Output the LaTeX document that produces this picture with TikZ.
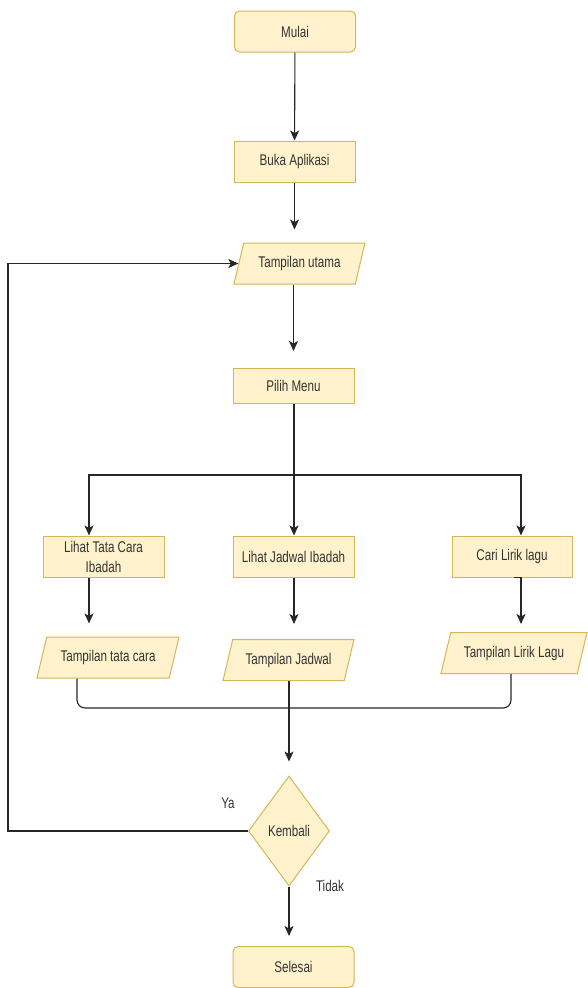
\documentclass[tikz,border=0pt]{standalone}
\usepackage{fontspec}
\setmainfont{Liberation Sans}[FakeStretch=0.75]
\usepackage{tikz}
\usetikzlibrary{arrows.meta,shapes.geometric}
\tikzset{>={Stealth[width=9pt,length=10pt,inset=2.5pt]}}
\definecolor{isi}{HTML}{FFF2CC}
\definecolor{garis}{HTML}{D6B656}
\definecolor{teks}{HTML}{333333}
\tikzset{
  kotak/.style={draw=garis,fill=isi,line width=1pt,minimum width=121pt,minimum height=41pt,inner sep=0pt,text=teks,align=center},
  awal/.style={kotak,rounded corners=5pt},
  io/.style={draw=garis,fill=isi,line width=1pt,trapezium,trapezium left angle=56,trapezium right angle=124,
    trapezium stretches body,minimum height=41pt,inner sep=0pt,text=teks},
  pilihan/.style={draw=garis,fill=isi,line width=1pt,diamond,aspect=0.74,minimum width=81pt,minimum height=110pt,inner sep=0pt,text=teks},
  panah/.style={->,line width=1.1pt,draw=black!85},
  garisan/.style={line width=1.1pt,draw=black!85}
}

\begin{document}
\begin{tikzpicture}[x=1pt,y=-1pt,font=\fontsize{15.5}{20}\selectfont]

  \useasboundingbox (0,0) rectangle (587,988);

  \newcommand\Ki{-14.5pt};
  \newcommand\Ka{9pt};

  %% alur utama
  \node[awal] (mulai) at (295,31.5) {Mulai};
  \node[kotak] (buka) at (294.5,161.5) {Buka Aplikasi};
  \node[io,minimum width=131pt] (utama) at (299.5,263.5) {Tampilan utama};
  \node[kotak,minimum height=35pt] (pilih) at (293.5,386) {Pilih Menu};

  %% tiga menu
  \node[kotak] (tatacara) at (103.5,556.5) {Lihat Tata Cara\\Ibadah};
  \node[kotak] (jadwal) at (293.5,556.5) {Lihat Jadwal Ibadah};
  \node[kotak,minimum width=120pt] (lirik) at (512,556.5) {Cari Lirik lagu};

  \node[io,minimum width=142pt] (tamptata) at (108,657.5) {Tampilan tata cara};
  \node[io,minimum width=131pt] (tampjadwal) at (288.5,660) {Tampilan Jadwal};
  \node[io,minimum width=146pt] (tamplirik) at (514,653) {Tampilan Lirik Lagu};

  %% keputusan
  \node[pilihan] (kembali) at (289,831) {Kembali};
  \node[awal] (selesai) at (293.5,967) {Selesai};
  \node[text=teks] (ya) at (228,803) {Ya};
  \node[text=teks] (tidak) at (330,886) {Tidak};

  \coordinate (cabang) at (294,475);
  \coordinate (gabung) at (289,708);
  \coordinate (balik) at (8,831);

  \draw[panah] (mulai) -- (buka);
  \draw[panah,shorten >=13pt] (buka.south) -- (buka.south |- utama.north);
  \draw[panah,shorten >=17pt] (utama.south -| pilih.north) -- (pilih.north);

  \draw[panah] (pilih.south -| cabang) -- (cabang |- jadwal.north); %% tengah
  \draw[panah] (cabang) -| ([xshift=\Ki]tatacara.north); %% kiri
  \draw[panah] (cabang) -| ([xshift=\Ka]lirik.north); %% kanan

  \draw[panah,shorten >=13pt] ([xshift=\Ki]tatacara.south) -- ([xshift=\Ki]tatacara.south |- tamptata.north);
  \draw[panah,shorten >=15pt] (jadwal.south -| cabang) -- (cabang |- tampjadwal.north);
  \draw[panah,shorten >=8pt] ([xshift=2pt]lirik.south) -| ([xshift=\Ka]lirik.south |- tamplirik.north);

  \draw[garisan,rounded corners=8pt] ([xshift=-31pt]tamptata.south) |- (gabung) -| ([xshift=-3pt]tamplirik.south);
  \draw[panah,shorten >=14pt] (tampjadwal.south -| kembali.north) -- (kembali.north);

  \draw[panah] (kembali.west) -- (balik) |- (utama.west); %% Ya
  \draw[panah,shorten >=10pt] (kembali.south) -- (kembali.south |- selesai.north); %% Tidak

\end{tikzpicture}
\end{document}
